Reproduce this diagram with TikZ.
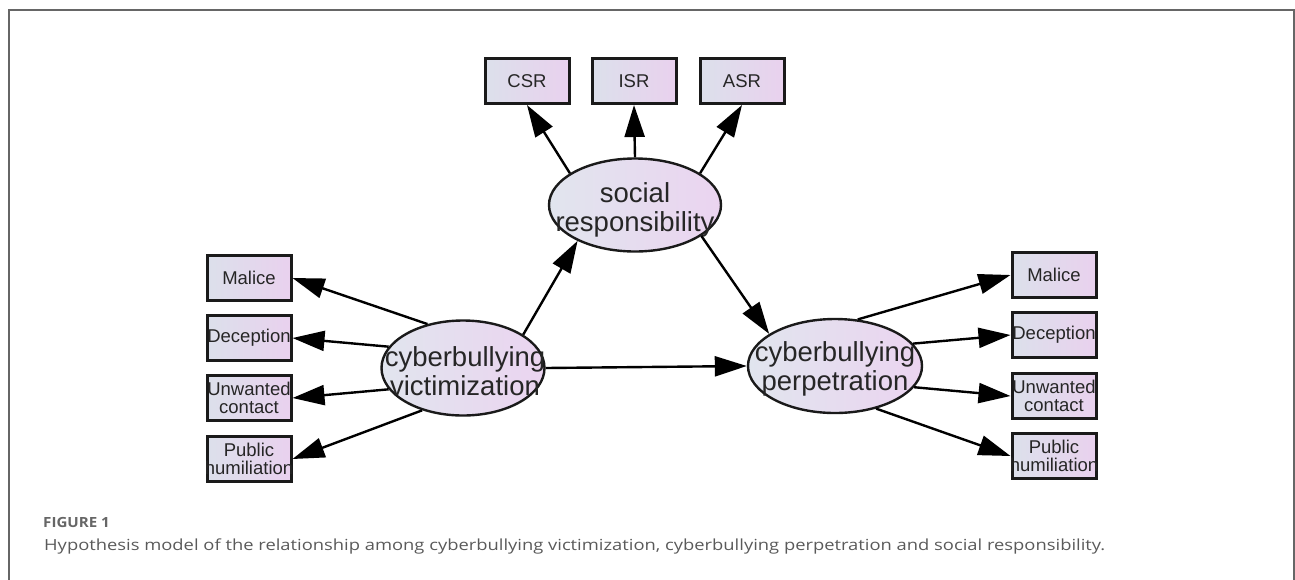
\documentclass[tikz,border=0pt]{standalone}
\usepackage{fontspec}
\setmainfont{Liberation Sans}
\newfontfamily\arialf{Liberation Sans}
\newfontfamily\capf[FakeStretch=1.2]{Open Sans}
\newfontfamily\capbf[FakeStretch=1.08]{Open Sans Bold}
\usetikzlibrary{arrows.meta,shapes.geometric}
\definecolor{shL}{HTML}{E1E5EE}
\definecolor{shR}{HTML}{EBD4F0}
\definecolor{bxL}{HTML}{DCE0EB}
\definecolor{bxR}{HTML}{E9D1EE}
\definecolor{edge}{HTML}{1A1A1A}
\definecolor{capgray}{HTML}{5A5A5A}
\definecolor{framegray}{HTML}{666666}
\tikzset{
  latent/.style={ellipse, draw=edge, line width=2.4pt, left color=shL, right color=shR, inner sep=0pt},
  obsbox/.style={rectangle, draw=edge, line width=3pt, left color=bxL, right color=bxR, inner sep=0pt, minimum width=84pt, minimum height=45pt},
  lattext/.style={align=center, text=black!85, font=\arialf\fontsize{27.5}{29}\selectfont, inner sep=0pt},
  boxtext/.style={align=center, text=black!85, font=\arialf\fontsize{18.5}{18}\selectfont, inner sep=0pt},
  arr/.style={line width=2.4pt, draw=black, -{Triangle[length=32pt,width=20pt]}},
}
\begin{document}
\begin{tikzpicture}[x=1pt,y=-1pt]
\useasboundingbox (0,0) rectangle (1295,579);
\draw[framegray, line width=2pt] (9,581) -- (9,10) -- (1294,10) -- (1294,581);

% latent variables
\node[latent, minimum width=172pt, minimum height=93pt] (soc) at (635,205) {};
\node[latent, minimum width=163pt, minimum height=95pt] (vic) at (463,368) {};
\node[latent, minimum width=174pt, minimum height=94pt] (per) at (835,366) {};
\node[lattext] (soct) at (635,210) {social\\responsibility};
\node[lattext] (vict) at (465,371) {cyberbullying\\victimization};
\node[lattext] (pert) at (835,369) {cyberbullying\\perpetration};

% indicators of social responsibility
\node[obsbox] (csr) at (527,81) {};
\node[obsbox] (isr) at (634,81) {};
\node[obsbox] (asr) at (742,81) {};
\node[boxtext] at (csr) {CSR};
\node[boxtext] at (isr) {ISR};
\node[boxtext] at (asr) {ASR};

% indicators of victimization
\node[obsbox] (vm) at (249,278) {};
\node[obsbox] (vd) at (249,338) {};
\node[obsbox] (vu) at (249,398) {};
\node[obsbox] (vp) at (249,459) {};
\node[boxtext] at (vm) {Malice};
\node[boxtext] at (vd) {Deception};
\node[boxtext] at (vu) {Unwanted\\contact};
\node[boxtext] at (vp) {Public\\humiliation};

% indicators of perpetration
\node[obsbox] (pm) at (1054,275) {};
\node[obsbox] (pd) at (1054,335) {};
\node[obsbox] (pu) at (1054,396) {};
\node[obsbox] (pp) at (1054,456) {};
\node[boxtext] at (pm) {Malice};
\node[boxtext] at (pd) {Deception};
\node[boxtext] at (pu) {Unwanted\\contact};
\node[boxtext] at (pp) {Public\\humiliation};

% arrows
\draw[arr] (soc.154) -- (csr.south);
\draw[arr] (soc.north) -- (isr.south);
\draw[arr] (soc.26) -- (asr.south);

\draw[arr] (vic.29) -- (soc.212);
\draw[arr] (soc.-25) -- (per.154);
\draw[arr] (vic.east) -- (per.west);

\draw[arr] (vic.129) -- (vm.east);
\draw[arr] (vic.164) -- (vd.east);
\draw[arr] (vic.196) -- (vu.east);
\draw[arr] (vic.226) -- (vp.east);

\draw[arr] (per.64) -- (pm.west);
\draw[arr] (per.16) -- (pd.west);
\draw[arr] (per.-15) -- (pu.west);
\draw[arr] (per.-46) -- (pp.west);

% caption
\node[anchor=base west, inner sep=0pt, text=framegray, font=\capbf\fontsize{14}{16}\selectfont] (figlab) at (43,527) {FIGURE 1};
\node[anchor=base west, inner sep=0pt, text=capgray, font=\capf\fontsize{15.3}{18}\selectfont] (cap) at (44,550) {Hypothesis model of the relationship among cyberbullying victimization, cyberbullying perpetration and social responsibility.};
\end{tikzpicture}
\end{document}
